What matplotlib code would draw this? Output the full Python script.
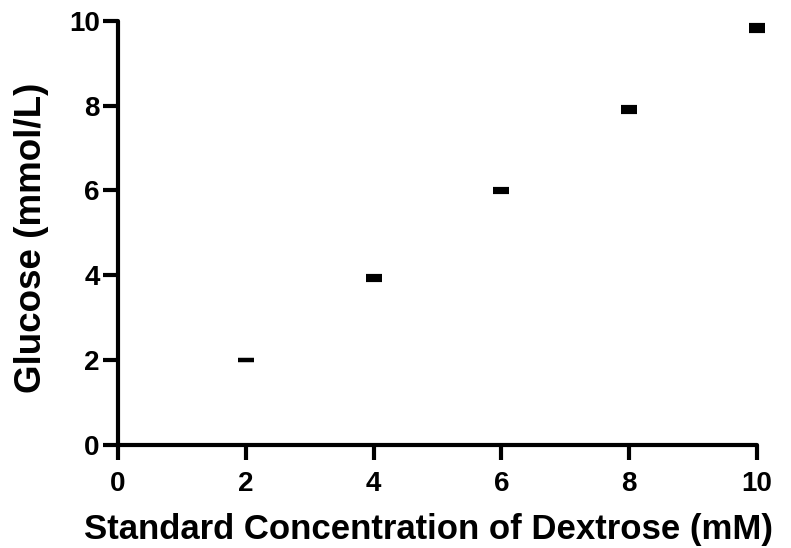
import matplotlib
matplotlib.use("Agg")
import matplotlib.pyplot as plt

# Standard concentration (mM) vs measured glucose, mean +/- SEM
conc = [2, 4, 6, 8, 10]
glucose = [2.0, 3.94, 6.0, 7.9, 9.84]
sem = [0.0, 0.04, 0.04, 0.06, 0.07]

xticks = [0, 2, 4, 6, 8, 10]
yticks = [0, 2, 4, 6, 8, 10]

plt.rcParams['font.family'] = ['Liberation Sans', 'DejaVu Sans']
plt.rcParams['font.weight'] = 'bold'

fig = plt.figure(figsize=(7.91, 5.48), dpi=100)
ax = fig.add_axes([0.149, 0.188, 0.808, 0.774])

ax.errorbar(conc, glucose, yerr=sem, fmt='none', ecolor='black',
            elinewidth=3, capsize=6, capthick=3, clip_on=False)
ax.plot(conc, glucose, ls='none', marker='_', ms=12, mew=3, color='black',
        clip_on=False)

ax.set_xlim(0, 10)
ax.set_ylim(0, 10)
ax.set_xticks(xticks)
ax.set_yticks(yticks)
ax.spines['top'].set_visible(False)
ax.spines['right'].set_visible(False)
for s in ('left', 'bottom'):
    ax.spines[s].set_linewidth(3)
    ax.spines[s].set_capstyle('round')
ax.tick_params(width=3, length=11, labelsize=20, direction='out')
ax.tick_params(axis='x', pad=8)
ax.tick_params(axis='y', pad=2)
for lab in ax.get_xticklabels() + ax.get_yticklabels():
    lab.set_fontweight('bold')

ax.set_xlabel('Standard Concentration of Dextrose (mM)', fontsize=25,
              fontweight='bold', labelpad=11)
ax.set_ylabel('Glucose (mmol/L)', fontsize=26.5, fontweight='bold', labelpad=14)
ax.xaxis.label.set_x(0.486)
ax.yaxis.label.set_y(0.488)

fig.savefig('out.png', dpi=100)
